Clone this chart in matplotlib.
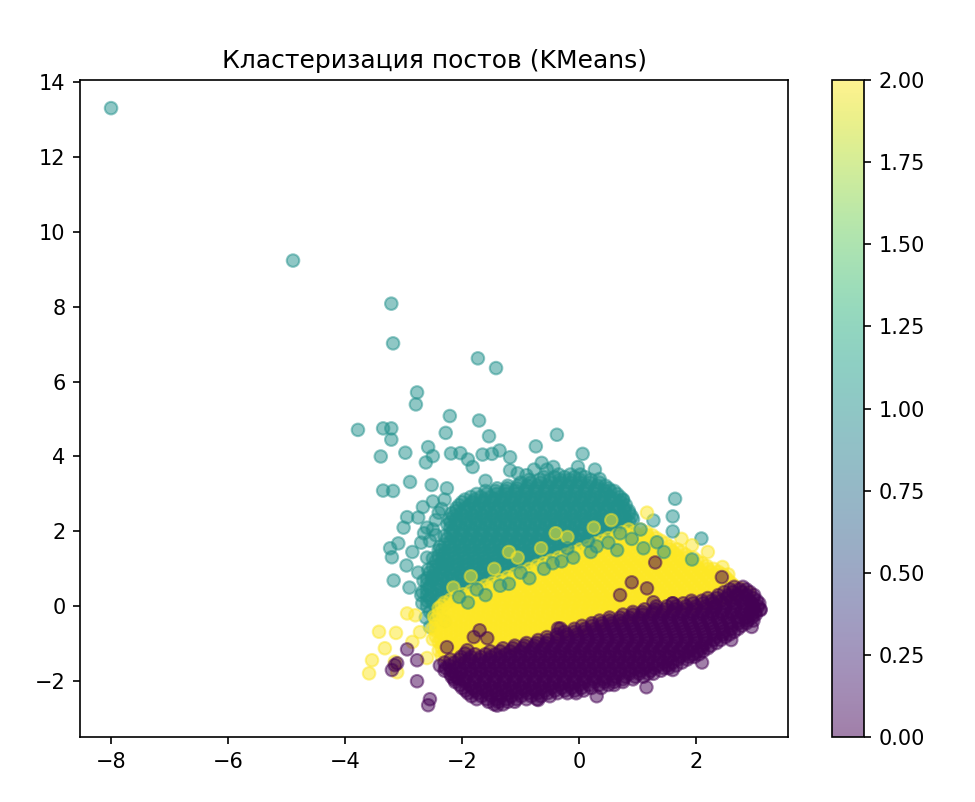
import matplotlib
matplotlib.use("Agg")
import matplotlib.pyplot as plt

# Кластер 1 (бирюзовый): плотное ядро, строки (y, [x...])
teal_core_rows = [
    (3.45, [-0.6, -0.42, -0.25, -0.08, 0.1]),
    (3.30, [-1.0, -0.83, -0.66, -0.49, -0.32, -0.15, 0.02, 0.19, 0.35]),
    (3.15, [-1.4, -1.23, -1.06, -0.89, -0.72, -0.55, -0.38, -0.21, -0.04, 0.13, 0.3, 0.5]),
    (3.00, [-1.75, -1.58, -1.41, -1.24, -1.07, -0.9, -0.73, -0.56, -0.39, -0.22, -0.05, 0.12, 0.29, 0.46, 0.65]),
    (2.85, [-1.95, -1.78, -1.61, -1.44, -1.27, -1.1, -0.93, -0.76, -0.59, -0.42, -0.25, -0.08, 0.09, 0.26, 0.43, 0.6, 0.75]),
    (2.70, [-2.05, -1.88, -1.71, -1.54, -1.37, -1.2, -1.03, -0.86, -0.69, -0.52, -0.35, -0.18, -0.01, 0.16, 0.33, 0.5, 0.66, 0.8]),
    (2.55, [-2.1, -1.93, -1.76, -1.59, -1.42, -1.25, -1.08, -0.91, -0.74, -0.57, -0.4, -0.23, -0.06, 0.11, 0.28, 0.45, 0.62, 0.78, 0.85]),
    (2.40, [-2.15, -1.98, -1.81, -1.64, -1.47, -1.3, -1.13, -0.96, -0.79, -0.62, -0.45, -0.28, -0.11, 0.06, 0.23, 0.4, 0.57, 0.74, 0.9]),
    (2.25, [-2.2, -2.03, -1.86, -1.69, -1.52, -1.35, -1.18, -1.01, -0.84, -0.67, -0.5, -0.33, -0.16, 0.01, 0.18, 0.35, 0.52, 0.69, 0.86]),
    (2.10, [-2.2, -2.03, -1.86, -1.69, -1.52, -1.35, -1.18, -1.01, -0.84, -0.67, -0.5, -0.33, -0.16, 0.01, 0.18, 0.35, 0.52, 0.69, 0.85]),
    (1.95, [-2.2, -2.03, -1.86, -1.69, -1.52, -1.35, -1.18, -1.01, -0.84, -0.67, -0.5, -0.33, -0.16, 0.01, 0.18, 0.35, 0.52, 0.7]),
    (1.80, [-2.25, -2.08, -1.91, -1.74, -1.57, -1.4, -1.23, -1.06, -0.89, -0.72, -0.55, -0.38, -0.21, -0.04, 0.13, 0.3, 0.5]),
    (1.65, [-2.3, -2.13, -1.96, -1.79, -1.62, -1.45, -1.28, -1.11, -0.94, -0.77, -0.6, -0.43, -0.26, -0.09, 0.08, 0.25]),
    (1.50, [-2.35, -2.18, -2.01, -1.84, -1.67, -1.5, -1.33, -1.16, -0.99, -0.82, -0.65, -0.48, -0.31, -0.14, 0.0]),
    (1.35, [-2.4, -2.23, -2.06, -1.89, -1.72, -1.55, -1.38, -1.21, -1.04, -0.87, -0.7, -0.53, -0.36, -0.25]),
    (1.20, [-2.45, -2.28, -2.11, -1.94, -1.77, -1.6, -1.43, -1.26, -1.09, -0.92, -0.75, -0.58, -0.5]),
    (1.05, [-2.5, -2.33, -2.16, -1.99, -1.82, -1.65, -1.48, -1.31, -1.14, -0.97, -0.8, -0.75]),
    (0.90, [-2.55, -2.38, -2.21, -2.04, -1.87, -1.7, -1.53, -1.36, -1.19, -1.0]),
    (0.75, [-2.6, -2.43, -2.26, -2.09, -1.92, -1.75, -1.58, -1.41, -1.25]),
    (0.60, [-2.6, -2.43, -2.26, -2.09, -1.92, -1.75, -1.58, -1.5]),
    (0.45, [-2.6, -2.43, -2.26, -2.09, -1.92, -1.75]),
    (0.30, [-2.6, -2.43, -2.26, -2.09, -2.0]),
    (0.15, [-2.6, -2.43, -2.26, -2.2]),
    (0.00, [-2.6, -2.45, -2.35]),
    (-0.15, [-2.55, -2.42]),
]

# Кластер 1: промежуточные строки ядра
teal_core_rows_b = [
    (3.52, [-0.35, -0.15, 0.02]),
    (3.38, [-0.85, -0.68, -0.5, -0.33, -0.16, 0.01, 0.2]),
    (3.22, [-1.22, -1.05, -0.88, -0.71, -0.54, -0.37, -0.2, -0.03, 0.14, 0.31, 0.45]),
    (3.08, [-1.6, -1.43, -1.26, -1.09, -0.92, -0.75, -0.58, -0.41, -0.24, -0.07, 0.1, 0.27, 0.44, 0.6]),
    (2.92, [-1.85, -1.68, -1.51, -1.34, -1.17, -1.0, -0.83, -0.66, -0.49, -0.32, -0.15, 0.02, 0.19, 0.36, 0.53, 0.7]),
    (2.78, [-2.0, -1.83, -1.66, -1.49, -1.32, -1.15, -0.98, -0.81, -0.64, -0.47, -0.3, -0.13, 0.04, 0.21, 0.38, 0.55, 0.72]),
    (2.62, [-2.1, -1.95, -1.78, -1.61, -1.44, -1.27, -1.1, -0.93, -0.76, -0.59, -0.42, -0.25, -0.08, 0.09, 0.26, 0.43, 0.6, 0.77]),
    (2.48, [-2.18, -2.02, -1.85, -1.68, -1.51, -1.34, -1.17, -1.0, -0.83, -0.66, -0.49, -0.32, -0.15, 0.02, 0.19, 0.36, 0.53, 0.7, 0.86]),
    (2.32, [-2.22, -2.1, -1.93, -1.76, -1.59, -1.42, -1.25, -1.08, -0.91, -0.74, -0.57, -0.4, -0.23, -0.06, 0.11, 0.28, 0.45, 0.62, 0.79, 0.92]),
    (2.18, [-2.25, -2.11, -1.94, -1.77, -1.6, -1.43, -1.26, -1.09, -0.92, -0.75, -0.58, -0.41, -0.24, -0.07, 0.1, 0.27, 0.44, 0.61, 0.78]),
    (2.02, [-2.15, -1.98, -1.81, -1.64, -1.47, -1.3, -1.13, -0.96, -0.79, -0.62, -0.45, -0.28, -0.11, 0.06, 0.23, 0.4, 0.57, 0.8]),
    (1.88, [-2.3, -2.16, -1.99, -1.82, -1.65, -1.48, -1.31, -1.14, -0.97, -0.8, -0.63, -0.46, -0.29, -0.12, 0.05, 0.22, 0.4, 0.6]),
    (1.72, [-2.2, -2.03, -1.86, -1.69, -1.52, -1.35, -1.18, -1.01, -0.84, -0.67, -0.5, -0.33, -0.16, 0.01, 0.18, 0.38]),
    (1.58, [-2.38, -2.22, -2.05, -1.88, -1.71, -1.54, -1.37, -1.2, -1.03, -0.86, -0.69, -0.52, -0.35, -0.18, 0.1]),
    (1.42, [-2.3, -2.13, -1.96, -1.79, -1.62, -1.45, -1.28, -1.11, -0.94, -0.77, -0.6, -0.43, -0.2]),
    (1.28, [-2.5, -2.33, -2.16, -1.99, -1.82, -1.65, -1.48, -1.31, -1.14, -0.97, -0.8, -0.63, -0.4]),
    (1.12, [-2.4, -2.23, -2.06, -1.89, -1.72, -1.55, -1.38, -1.21, -1.04, -0.87, -0.65]),
    (0.98, [-2.58, -2.45, -2.28, -2.11, -1.94, -1.77, -1.6, -1.43, -1.26, -1.09, -0.9]),
    (0.82, [-2.5, -2.33, -2.16, -1.99, -1.82, -1.65, -1.48, -1.31, -1.15]),
    (0.68, [-2.66, -2.52, -2.35, -2.18, -2.01, -1.84, -1.67, -1.4]),
    (0.52, [-2.55, -2.38, -2.21, -2.04, -1.87, -1.65]),
    (0.38, [-2.68, -2.52, -2.35, -2.18, -1.95]),
    (0.22, [-2.55, -2.38, -2.15]),
    (0.08, [-2.68, -2.5, -2.3]),
    (-0.25, [-2.5]),
]

# Кластер 1: отдельные точки
teal_sparse_x = [-8.0, -4.89, -3.21, -3.18, -1.73, -1.42, -2.77, -2.79, -3.78, -3.35,
                 -3.21, -3.21, -2.21, -1.71, -2.28, -1.54, -0.38, -3.39, -2.97, -2.58,
                 -2.62, -2.5, -2.19, -2.03, -1.9, -1.82, -1.65, -1.49, -1.36, -1.18,
                 -1.18, -0.74, -0.64, -0.77, -0.44, 0.06, -0.02, 0.27, -2.89, -3.35,
                 -3.18, -2.52, -2.26, 0.53, 0.75, 1.64, 1.6, 1.27, 2.09, -2.94,
                 -2.75, -3.0, -3.23, -3.09, -3.2, -2.95, -3.17, -2.67, -2.5, -2.4,
                 -2.6, -2.45, -2.7, -2.85, -2.6, -2.75, -2.9, -2.62, -2.55, -1.05,
                 -0.55, 0.35, -1.6, -0.9, -2.35, -2.45, -2.5, -2.3, -2.55, -2.4,
                 -2.65, -2.35, -2.5, -2.7, -2.3]
teal_sparse_y = [13.3, 9.23, 8.08, 7.02, 6.62, 6.36, 5.71, 5.39, 4.71, 4.75,
                 4.75, 4.45, 5.08, 4.96, 4.63, 4.54, 4.58, 4.0, 4.1, 4.25,
                 3.84, 4.01, 4.08, 4.09, 3.92, 3.72, 4.05, 4.07, 4.16, 3.98,
                 3.63, 4.27, 3.83, 3.65, 3.72, 4.07, 3.72, 3.65, 3.32, 3.09,
                 3.08, 3.24, 3.15, 3.09, 2.83, 2.87, 2.4, 2.29, 1.81, 2.38,
                 2.37, 2.1, 1.55, 1.68, 1.31, 1.09, 0.69, 2.65, 2.8, 2.5,
                 2.1, 1.9, 1.7, 1.45, 1.3, 0.9, 0.5, -0.3, -0.55, 3.55,
                 3.65, 3.4, 3.35, 3.5, 2.6, 2.3, 2.05, 2.85, 1.75, 1.5,
                 1.95, 1.15, 0.75, 0.3, -0.4]

# Кластер 1: точки поверх жёлтого кластера
teal_edge_x = [1.33, 1.93, 0.9, 1.1, 0.5, -0.3, -1.2, -1.6, -1.0, 0.2, -0.6, -1.9, 0.7, 1.45,
               1.05, 0.3, -0.1, -0.45, -0.85, -1.35, -1.75, -2.05, 1.6, 0.65, 0.15, -0.2]
teal_edge_y = [1.71, 1.25, 1.8, 1.55, 1.7, 1.2, 0.6, 0.3, 0.9, 1.45, 1.0, 0.1, 1.95, 1.45,
               2.05, 1.6, 1.3, 1.15, 0.75, 0.55, 0.45, 0.25, 2.0, 1.5, 1.75, 1.55]

# Кластер 2 (жёлтый): плотная часть
yellow_rows = [
    (2.05, [0.85, 1.05]),
    (1.90, [0.65, 0.82, 0.99, 1.16, 1.25]),
    (1.75, [0.4, 0.57, 0.74, 0.91, 1.08, 1.25, 1.4]),
    (1.60, [0.15, 0.32, 0.49, 0.66, 0.83, 1.0, 1.17, 1.34, 1.55]),
    (1.45, [-0.1, 0.07, 0.24, 0.41, 0.58, 0.75, 0.92, 1.09, 1.26, 1.43, 1.6, 1.75]),
    (1.30, [-0.35, -0.18, -0.01, 0.16, 0.33, 0.5, 0.67, 0.84, 1.01, 1.18, 1.35, 1.52, 1.69, 1.85, 1.95]),
    (1.15, [-0.6, -0.43, -0.26, -0.09, 0.08, 0.25, 0.42, 0.59, 0.76, 0.93, 1.1, 1.27, 1.44, 1.61, 1.78, 1.95, 2.1]),
    (1.00, [-0.85, -0.68, -0.51, -0.34, -0.17, 0.0, 0.17, 0.34, 0.51, 0.68, 0.85, 1.02, 1.19, 1.36, 1.53, 1.7, 1.87, 2.04, 2.2, 2.3]),
    (0.85, [-1.1, -0.93, -0.76, -0.59, -0.42, -0.25, -0.08, 0.09, 0.26, 0.43, 0.6, 0.77, 0.94, 1.11, 1.28, 1.45, 1.62, 1.79, 1.96, 2.13, 2.3, 2.45]),
    (0.70, [-1.35, -1.18, -1.01, -0.84, -0.67, -0.5, -0.33, -0.16, 0.01, 0.18, 0.35, 0.52, 0.69, 0.86, 1.03, 1.2, 1.37, 1.54, 1.71, 1.88, 2.05, 2.22, 2.39, 2.55]),
    (0.55, [-1.6, -1.43, -1.26, -1.09, -0.92, -0.75, -0.58, -0.41, -0.24, -0.07, 0.1, 0.27, 0.44, 0.61, 0.78, 0.95, 1.12, 1.29, 1.46, 1.63, 1.8, 1.97, 2.14, 2.31, 2.48, 2.65]),
    (0.40, [-1.85, -1.68, -1.51, -1.34, -1.17, -1.0, -0.83, -0.66, -0.49, -0.32, -0.15, 0.02, 0.19, 0.36, 0.53, 0.7, 0.87, 1.04, 1.21, 1.38, 1.55, 1.72, 1.89, 2.06, 2.23, 2.4, 2.56, 2.7]),
    (0.25, [-2.1, -1.93, -1.76, -1.59, -1.42, -1.25, -1.08, -0.91, -0.74, -0.57, -0.4, -0.23, -0.06, 0.11, 0.28, 0.45, 0.62, 0.79, 0.96, 1.13, 1.3, 1.47, 1.64, 1.81, 1.98, 2.15, 2.32, 2.48, 2.6]),
    (0.10, [-2.3, -2.13, -1.96, -1.79, -1.62, -1.45, -1.28, -1.11, -0.94, -0.77, -0.6, -0.43, -0.26, -0.09, 0.08, 0.25, 0.42, 0.59, 0.76, 0.93, 1.1, 1.27, 1.44, 1.61, 1.78, 1.95, 2.12, 2.28, 2.35]),
    (-0.05, [-2.4, -2.23, -2.06, -1.89, -1.72, -1.55, -1.38, -1.21, -1.04, -0.87, -0.7, -0.53, -0.36, -0.19, -0.02, 0.15, 0.32, 0.49, 0.66, 0.83, 1.0, 1.17, 1.34, 1.51, 1.68, 1.9]),
    (-0.20, [-2.4, -2.23, -2.06, -1.89, -1.72, -1.55, -1.38, -1.21, -1.04, -0.87, -0.7, -0.53, -0.36, -0.19, -0.02, 0.15, 0.32, 0.49, 0.66, 0.83, 1.0, 1.2]),
    (-0.35, [-2.45, -2.28, -2.11, -1.94, -1.77, -1.6, -1.43, -1.26, -1.09, -0.92, -0.75, -0.58, -0.41, -0.24, -0.07, 0.1, 0.27, 0.44, 0.61, 0.7]),
    (-0.50, [-2.45, -2.28, -2.11, -1.94, -1.77, -1.6, -1.43, -1.26, -1.09, -0.92, -0.75, -0.58, -0.41, -0.24, -0.07, 0.1, 0.27, 0.35]),
    (-0.65, [-2.45, -2.28, -2.11, -1.94, -1.77, -1.6, -1.43, -1.26, -1.09, -0.92, -0.75, -0.58, -0.41, -0.24, -0.07, 0.0]),
    (-0.80, [-2.45, -2.28, -2.11, -1.94, -1.77, -1.6, -1.43, -1.26, -1.09, -0.92, -0.75, -0.58, -0.41, -0.35]),
    (-0.95, [-2.4, -2.23, -2.06, -1.89, -1.72, -1.55, -1.38, -1.21, -1.04, -0.87, -0.7]),
    (-1.10, [-2.35, -2.18, -2.01, -1.84, -1.67, -1.5, -1.33, -1.16, -1.1]),
    (-1.25, [-2.3, -2.13, -1.96, -1.79, -1.6]),
    (-1.40, [-2.25, -2.05]),
]

# Кластер 2: промежуточные строки
yellow_rows_b = [
    (1.98, [0.75, 0.95, 1.15]),
    (1.82, [0.5, 0.67, 0.84, 1.01, 1.18, 1.32]),
    (1.68, [0.28, 0.45, 0.62, 0.79, 0.96, 1.13, 1.3, 1.48]),
    (1.52, [0.02, 0.19, 0.36, 0.53, 0.7, 0.87, 1.04, 1.21, 1.38, 1.55, 1.68]),
    (1.38, [-0.22, -0.05, 0.12, 0.29, 0.46, 0.63, 0.8, 0.97, 1.14, 1.31, 1.48, 1.65, 1.82]),
    (1.22, [-0.48, -0.31, -0.14, 0.03, 0.2, 0.37, 0.54, 0.71, 0.88, 1.05, 1.22, 1.39, 1.56, 1.73, 1.9, 2.02]),
    (1.08, [-0.72, -0.55, -0.38, -0.21, -0.04, 0.13, 0.3, 0.47, 0.64, 0.81, 0.98, 1.15, 1.32, 1.49, 1.66, 1.83, 2.0, 2.18]),
    (0.92, [-0.98, -0.81, -0.64, -0.47, -0.3, -0.13, 0.04, 0.21, 0.38, 0.55, 0.72, 0.89, 1.06, 1.23, 1.4, 1.57, 1.74, 1.91, 2.08, 2.25, 2.38]),
    (0.78, [-1.22, -1.05, -0.88, -0.71, -0.54, -0.37, -0.2, -0.03, 0.14, 0.31, 0.48, 0.65, 0.82, 0.99, 1.16, 1.33, 1.5, 1.67, 1.84, 2.01, 2.18, 2.35, 2.5]),
    (0.62, [-1.48, -1.31, -1.14, -0.97, -0.8, -0.63, -0.46, -0.29, -0.12, 0.05, 0.22, 0.39, 0.56, 0.73, 0.9, 1.07, 1.24, 1.41, 1.58, 1.75, 1.92, 2.09, 2.26, 2.43, 2.6]),
    (0.48, [-1.72, -1.55, -1.38, -1.21, -1.04, -0.87, -0.7, -0.53, -0.36, -0.19, -0.02, 0.15, 0.32, 0.49, 0.66, 0.83, 1.0, 1.17, 1.34, 1.51, 1.68, 1.85, 2.02, 2.19, 2.36, 2.53, 2.68]),
    (0.32, [-1.98, -1.81, -1.64, -1.47, -1.3, -1.13, -0.96, -0.79, -0.62, -0.45, -0.28, -0.11, 0.06, 0.23, 0.4, 0.57, 0.74, 0.91, 1.08, 1.25, 1.42, 1.59, 1.76, 1.93, 2.1, 2.27, 2.44, 2.62]),
    (0.18, [-2.2, -2.03, -1.86, -1.69, -1.52, -1.35, -1.18, -1.01, -0.84, -0.67, -0.5, -0.33, -0.16, 0.01, 0.18, 0.35, 0.52, 0.69, 0.86, 1.03, 1.2, 1.37, 1.54, 1.71, 1.88, 2.05, 2.22, 2.45]),
    (0.02, [-2.35, -2.18, -2.01, -1.84, -1.67, -1.5, -1.33, -1.16, -0.99, -0.82, -0.65, -0.48, -0.31, -0.14, 0.03, 0.2, 0.37, 0.54, 0.71, 0.88, 1.05, 1.22, 1.39, 1.56, 1.73, 1.95, 2.15]),
    (-0.12, [-2.32, -2.15, -1.98, -1.81, -1.64, -1.47, -1.3, -1.13, -0.96, -0.79, -0.62, -0.45, -0.28, -0.11, 0.06, 0.23, 0.4, 0.57, 0.74, 0.91, 1.08, 1.25, 1.45]),
    (-0.28, [-2.48, -2.32, -2.15, -1.98, -1.81, -1.64, -1.47, -1.3, -1.13, -0.96, -0.79, -0.62, -0.45, -0.28, -0.11, 0.06, 0.23, 0.4, 0.57, 0.8, 0.95]),
    (-0.42, [-2.36, -2.19, -2.02, -1.85, -1.68, -1.51, -1.34, -1.17, -1.0, -0.83, -0.66, -0.49, -0.32, -0.15, 0.02, 0.19, 0.4]),
    (-0.58, [-2.5, -2.36, -2.19, -2.02, -1.85, -1.68, -1.51, -1.34, -1.17, -1.0, -0.83, -0.66, -0.49, -0.32, -0.15, 0.1]),
    (-0.72, [-2.36, -2.19, -2.02, -1.85, -1.68, -1.51, -1.34, -1.17, -1.0, -0.83, -0.66, -0.49, -0.3, -0.18]),
    (-0.88, [-2.5, -2.36, -2.19, -2.02, -1.85, -1.68, -1.51, -1.34, -1.17, -1.0, -0.83, -0.6]),
    (-1.02, [-2.32, -2.15, -1.98, -1.81, -1.64, -1.47, -1.3, -1.13, -0.95]),
    (-1.18, [-2.4, -2.24, -2.07, -1.9, -1.73, -1.56, -1.4]),
    (-1.32, [-2.35, -2.18, -2.0, -1.85]),
]

# Кластер 2: отдельные точки (в т.ч. заходящие в бирюзовую область)
yellow_sparse_x = [-3.42, -3.13, -3.32, -3.54, -3.59, -3.15, -3.11, -2.94, -2.8, -2.72,
                   -2.6, -2.85, 1.16, 1.93, 2.2, 2.45, 2.75, 2.9, 2.55, 1.75,
                   -0.2, -0.65, -1.05, -1.45, -1.85, -2.15, 0.25, 0.55, -0.4, -1.2]
yellow_sparse_y = [-0.68, -0.71, -1.12, -1.44, -1.79, -1.48, -1.76, -0.19, -0.24, -0.69,
                   -1.38, -0.95, 2.5, 1.63, 1.45, 1.05, 0.48, 0.35, 0.85, 1.8,
                   1.85, 1.55, 1.3, 1.0, 0.8, 0.5, 2.1, 2.3, 1.95, 1.45]

# Кластер 0 (фиолетовый): плотная полоса
purple_rows = [
    (0.45, [2.58, 2.74, 2.86]),
    (0.30, [2.38, 2.55, 2.7, 2.86, 2.99]),
    (0.15, [1.92, 2.1, 2.27, 2.43, 2.6, 2.76, 2.91, 3.04]),
    (0.00, [1.32, 1.5, 1.66, 1.83, 2.0, 2.16, 2.33, 2.5, 2.67, 2.83, 2.97, 3.06]),
    (-0.15, [0.92, 1.08, 1.26, 1.43, 1.6, 1.76, 1.93, 2.1, 2.27, 2.44, 2.6, 2.77, 2.92, 3.01]),
    (-0.30, [0.52, 0.7, 0.86, 1.03, 1.2, 1.37, 1.53, 1.7, 1.87, 2.04, 2.2, 2.37, 2.54, 2.7, 2.85, 2.96]),
    (-0.45, [0.22, 0.39, 0.56, 0.73, 0.9, 1.06, 1.23, 1.4, 1.57, 1.74, 1.9, 2.07, 2.24, 2.41, 2.58, 2.73, 2.86]),
    (-0.60, [-0.08, 0.1, 0.27, 0.43, 0.6, 0.77, 0.94, 1.1, 1.27, 1.44, 1.61, 1.78, 1.94, 2.11, 2.28, 2.45, 2.6, 2.72]),
    (-0.75, [-0.38, -0.21, -0.04, 0.13, 0.3, 0.46, 0.63, 0.8, 0.97, 1.14, 1.3, 1.47, 1.64, 1.81, 1.97, 2.14, 2.31, 2.46, 2.57]),
    (-0.90, [-0.7, -0.53, -0.36, -0.19, -0.02, 0.15, 0.31, 0.48, 0.65, 0.82, 0.99, 1.15, 1.32, 1.49, 1.66, 1.83, 1.99, 2.16, 2.3, 2.42]),
    (-1.05, [-1.1, -0.93, -0.76, -0.59, -0.42, -0.25, -0.08, 0.09, 0.26, 0.42, 0.59, 0.76, 0.93, 1.1, 1.26, 1.43, 1.6, 1.77, 1.94, 2.1, 2.25]),
    (-1.20, [-1.52, -1.35, -1.18, -1.01, -0.84, -0.67, -0.5, -0.33, -0.16, 0.01, 0.18, 0.35, 0.52, 0.69, 0.86, 1.03, 1.2, 1.37, 1.53, 1.7, 1.87, 2.02, 2.12]),
    (-1.35, [-2.02, -1.85, -1.68, -1.51, -1.34, -1.17, -1.0, -0.83, -0.66, -0.49, -0.32, -0.15, 0.02, 0.19, 0.36, 0.53, 0.7, 0.87, 1.04, 1.21, 1.38, 1.55, 1.72, 1.88, 1.97]),
    (-1.50, [-2.3, -2.13, -1.96, -1.79, -1.62, -1.45, -1.28, -1.11, -0.94, -0.77, -0.6, -0.43, -0.26, -0.09, 0.08, 0.25, 0.42, 0.59, 0.76, 0.93, 1.1, 1.27, 1.44, 1.6, 1.76]),
    (-1.65, [-2.28, -2.11, -1.94, -1.77, -1.6, -1.43, -1.26, -1.09, -0.92, -0.75, -0.58, -0.41, -0.24, -0.07, 0.1, 0.27, 0.44, 0.61, 0.78, 0.95, 1.12, 1.29, 1.45, 1.53]),
    (-1.80, [-2.2, -2.03, -1.86, -1.69, -1.52, -1.35, -1.18, -1.01, -0.84, -0.67, -0.5, -0.33, -0.16, 0.01, 0.18, 0.35, 0.52, 0.69, 0.86, 1.03, 1.18, 1.27]),
    (-1.95, [-2.14, -1.97, -1.8, -1.63, -1.46, -1.29, -1.12, -0.95, -0.78, -0.61, -0.44, -0.27, -0.1, 0.07, 0.24, 0.41, 0.58, 0.75, 0.92]),
    (-2.10, [-2.04, -1.87, -1.7, -1.53, -1.36, -1.19, -1.02, -0.85, -0.68, -0.51, -0.34, -0.17, 0.0, 0.17, 0.34, 0.5, 0.6]),
    (-2.25, [-1.94, -1.77, -1.6, -1.43, -1.26, -1.09, -0.92, -0.75, -0.58, -0.41, -0.24, -0.07, 0.08]),
    (-2.40, [-1.84, -1.67, -1.5, -1.33, -1.16, -0.99, -0.82, -0.65, -0.5]),
    (-2.55, [-1.55, -1.38, -1.22, -1.1]),
]

# Кластер 0: промежуточные строки
purple_rows_b = [
    (0.52, [2.65, 2.8]),
    (0.38, [2.48, 2.63, 2.78, 2.92]),
    (0.22, [2.2, 2.35, 2.52, 2.68, 2.84, 2.98]),
    (0.08, [1.6, 1.78, 1.95, 2.12, 2.29, 2.46, 2.63, 2.8, 2.95, 3.08]),
    (-0.08, [1.12, 1.3, 1.47, 1.64, 1.81, 1.98, 2.15, 2.32, 2.49, 2.66, 2.83, 2.98, 3.1]),
    (-0.22, [0.75, 0.92, 1.09, 1.26, 1.43, 1.6, 1.77, 1.94, 2.11, 2.28, 2.45, 2.62, 2.79, 2.95, 3.02]),
    (-0.38, [0.35, 0.52, 0.69, 0.86, 1.03, 1.2, 1.37, 1.54, 1.71, 1.88, 2.05, 2.22, 2.39, 2.56, 2.73, 2.88, 2.98]),
    (-0.52, [0.05, 0.22, 0.39, 0.56, 0.73, 0.9, 1.07, 1.24, 1.41, 1.58, 1.75, 1.92, 2.09, 2.26, 2.43, 2.6, 2.78]),
    (-0.68, [-0.25, -0.08, 0.09, 0.26, 0.43, 0.6, 0.77, 0.94, 1.11, 1.28, 1.45, 1.62, 1.79, 1.96, 2.13, 2.3, 2.47, 2.65]),
    (-0.82, [-0.55, -0.38, -0.21, -0.04, 0.13, 0.3, 0.47, 0.64, 0.81, 0.98, 1.15, 1.32, 1.49, 1.66, 1.83, 2.0, 2.17, 2.34, 2.5]),
    (-0.98, [-0.9, -0.73, -0.56, -0.39, -0.22, -0.05, 0.12, 0.29, 0.46, 0.63, 0.8, 0.97, 1.14, 1.31, 1.48, 1.65, 1.82, 1.99, 2.16, 2.35]),
    (-1.12, [-1.3, -1.13, -0.96, -0.79, -0.62, -0.45, -0.28, -0.11, 0.06, 0.23, 0.4, 0.57, 0.74, 0.91, 1.08, 1.25, 1.42, 1.59, 1.76, 1.93, 2.1, 2.2]),
    (-1.28, [-1.78, -1.6, -1.43, -1.26, -1.09, -0.92, -0.75, -0.58, -0.41, -0.24, -0.07, 0.1, 0.27, 0.44, 0.61, 0.78, 0.95, 1.12, 1.29, 1.46, 1.63, 1.8, 1.95, 2.05]),
    (-1.42, [-2.2, -2.05, -1.88, -1.71, -1.54, -1.37, -1.2, -1.03, -0.86, -0.69, -0.52, -0.35, -0.18, -0.01, 0.16, 0.33, 0.5, 0.67, 0.84, 1.01, 1.18, 1.35, 1.52, 1.69, 1.85]),
    (-1.58, [-2.38, -2.22, -2.05, -1.88, -1.71, -1.54, -1.37, -1.2, -1.03, -0.86, -0.69, -0.52, -0.35, -0.18, -0.01, 0.16, 0.33, 0.5, 0.67, 0.84, 1.01, 1.18, 1.35, 1.52, 1.66]),
    (-1.72, [-2.3, -2.18, -2.01, -1.84, -1.67, -1.5, -1.33, -1.16, -0.99, -0.82, -0.65, -0.48, -0.31, -0.14, 0.03, 0.2, 0.37, 0.54, 0.71, 0.88, 1.05, 1.22, 1.4]),
    (-1.88, [-2.18, -2.1, -1.93, -1.76, -1.59, -1.42, -1.25, -1.08, -0.91, -0.74, -0.57, -0.4, -0.23, -0.06, 0.11, 0.28, 0.45, 0.62, 0.79, 0.96, 1.1]),
    (-2.02, [-2.12, -1.95, -1.78, -1.61, -1.44, -1.27, -1.1, -0.93, -0.76, -0.59, -0.42, -0.25, -0.08, 0.09, 0.26, 0.43, 0.6, 0.75]),
    (-2.18, [-2.0, -1.83, -1.66, -1.49, -1.32, -1.15, -0.98, -0.81, -0.64, -0.47, -0.3, -0.13, 0.04, 0.21, 0.38]),
    (-2.32, [-1.9, -1.73, -1.56, -1.39, -1.22, -1.05, -0.88, -0.71, -0.54, -0.37, -0.2, -0.05]),
    (-2.48, [-1.75, -1.58, -1.41, -1.24, -1.07, -0.9, -0.72]),
    (-2.62, [-1.45, -1.3]),
]

# Кластер 0: отдельные точки
purple_sparse_x = [-2.94, -2.77, -3.15, -3.2, -2.77, -2.55, -2.58, 1.15, -1.4, -0.7,
                   0.3, 1.6, 2.1, 2.6, 2.95, 3.1, 0.9, 1.16, 0.7, -0.32,
                   1.27, 1.6, 2.31, 2.44, 1.3, -1.7, -1.8, -1.95, -2.26, -3.11,
                   -1.91, -1.57, -2.06, -0.36]
purple_sparse_y = [-1.15, -1.44, -1.57, -1.7, -2.0, -2.48, -2.64, -2.16, -2.65, -2.5,
                   -2.4, -1.7, -1.5, -0.9, -0.55, -0.1, 0.64, 0.48, 0.3, -0.59,
                   0.11, 0.08, -0.02, 0.78, 1.17, -0.64, -0.82, -1.26, -1.09, -1.52,
                   -1.17, -0.85, -1.93, -0.59]


def rows_to_xy(*row_sets):
    xs, ys = [], []
    for rows in row_sets:
        for y, row_x in rows:
            xs.extend(row_x)
            ys.extend([y] * len(row_x))
    return xs, ys


def main() -> None:
    tc_x, tc_y = rows_to_xy(teal_core_rows, teal_core_rows_b)
    ye_x, ye_y = rows_to_xy(yellow_rows, yellow_rows_b)
    pu_x, pu_y = rows_to_xy(purple_rows, purple_rows_b)

    # порядок отрисовки: бирюзовый, жёлтый, фиолетовый, затем бирюзовые поверх
    groups = [
        (tc_x + teal_sparse_x, tc_y + teal_sparse_y, 1),
        (ye_x + yellow_sparse_x, ye_y + yellow_sparse_y, 2),
        (pu_x + purple_sparse_x, pu_y + purple_sparse_y, 0),
        (teal_edge_x, teal_edge_y, 1),
    ]
    x_all, y_all, labels = [], [], []
    for gx, gy, lab in groups:
        x_all.extend(gx)
        y_all.extend(gy)
        labels.extend([lab] * len(gx))

    fig = plt.figure(figsize=(6.5, 5.3467), dpi=150)
    ax = fig.add_axes([0.0821, 0.081, 0.7261, 0.8192])
    cax = fig.add_axes([0.853, 0.081, 0.033, 0.8192])

    sc = ax.scatter(x_all, y_all, c=labels, cmap="viridis", alpha=0.5)
    ax.set_xlim(-8.53, 3.57)
    ax.set_ylim(-3.49, 14.05)
    ax.set_title("Кластеризация постов (KMeans)")
    fig.colorbar(sc, cax=cax)

    fig.savefig("out.png", dpi=150)
    plt.close(fig)


if __name__ == "__main__":
    main()
